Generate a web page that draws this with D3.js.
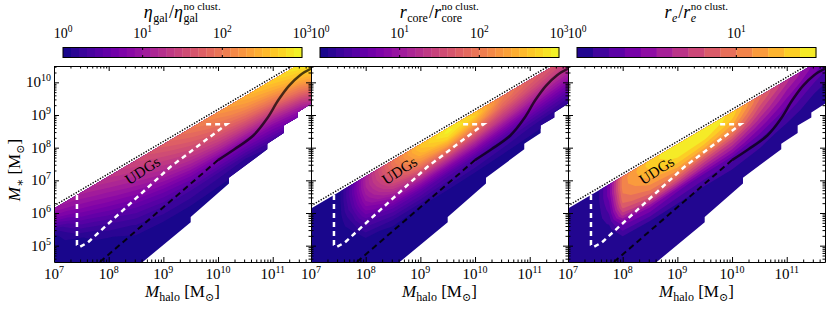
<!DOCTYPE html>
<html>
<head>
<meta charset="utf-8">
<script src="https://cdn.jsdelivr.net/npm/d3@7"></script>
<style>
body { margin: 0; background: #fff; }
svg { display: block; }
text { font-family: "Liberation Serif", "DejaVu Serif", serif; fill: #000; }
</style>
</head>
<body>
<svg id="chart" width="830" height="309"></svg>
<script>
// grid nodes: log10 halo mass, and depth (dex) below the dotted upper limit
const xNodes = [7, 7.5, 7.75, 8, 8.5, 9, 9.5, 10, 10.5, 11, 11.5, 12];
const depthNodes = [0, 0.2, 0.4, 0.6, 0.8, 1.0, 1.25, 1.5, 2.0, 2.5, 3.0, 3.5];

// log10 of the ratios, one row per depth node
const etaGal = [
  [1.05, 1.2, 1.28, 1.35, 1.55, 1.8, 2.05, 2.3, 2.55, 2.75, 2.95, 3.0],
  [0.88, 1.05, 1.15, 1.25, 1.45, 1.68, 1.92, 2.15, 2.4, 2.6, 2.85, 3.0],
  [0.68, 0.92, 1.02, 1.12, 1.32, 1.55, 1.78, 2.0, 2.22, 2.4, 2.65, 2.95],
  [0.42, 0.78, 0.88, 0.98, 1.18, 1.4, 1.62, 1.82, 2.0, 2.15, 2.4, 2.8],
  [0.15, 0.62, 0.74, 0.85, 1.05, 1.25, 1.45, 1.62, 1.75, 1.88, 2.1, 2.55],
  [0.03, 0.45, 0.58, 0.7, 0.9, 1.1, 1.27, 1.4, 1.48, 1.55, 1.8, 2.25],
  [0, 0.25, 0.38, 0.52, 0.72, 0.88, 1.02, 1.1, 1.12, 1.15, 1.35, 1.85],
  [0, 0.08, 0.2, 0.32, 0.52, 0.65, 0.75, 0.75, 0.75, 0.8, 0.95, 1.45],
  [0, 0, 0.03, 0.08, 0.22, 0.3, 0.3, 0.25, 0.2, 0.25, 0.35, 0.7],
  [0, 0, 0, 0.02, 0.06, 0.08, 0.08, 0.05, 0.03, 0.03, 0.05, 0.2],
  [0, 0, 0, 0, 0, 0, 0, 0, 0, 0, 0, 0.02],
  [0, 0, 0, 0, 0, 0, 0, 0, 0, 0, 0, 0]
];
const rCore = [
  [0, 0.03, 0.45, 1.1, 2.0, 2.6, 2.85, 2.6, 2.05, 1.8, 1.65, 1.5],
  [0, 0.03, 0.5, 1.12, 1.95, 2.6, 2.95, 2.7, 2.0, 1.72, 1.52, 1.38],
  [0, 0.03, 0.5, 1.1, 1.85, 2.45, 2.75, 2.4, 1.82, 1.55, 1.35, 1.2],
  [0, 0.02, 0.45, 1.02, 1.7, 2.2, 2.35, 2.0, 1.55, 1.3, 1.12, 1.0],
  [0, 0.02, 0.4, 0.92, 1.5, 1.85, 1.85, 1.6, 1.28, 1.05, 0.9, 0.78],
  [0, 0.01, 0.3, 0.8, 1.25, 1.45, 1.35, 1.2, 0.95, 0.78, 0.66, 0.55],
  [0, 0, 0.2, 0.6, 0.9, 0.95, 0.85, 0.75, 0.6, 0.48, 0.4, 0.32],
  [0, 0, 0.1, 0.38, 0.55, 0.55, 0.45, 0.4, 0.3, 0.22, 0.18, 0.14],
  [0, 0, 0, 0.08, 0.12, 0.1, 0.08, 0.05, 0.03, 0.02, 0, 0],
  [0, 0, 0, 0, 0.02, 0, 0, 0, 0, 0, 0, 0],
  [0, 0, 0, 0, 0, 0, 0, 0, 0, 0, 0, 0],
  [0, 0, 0, 0, 0, 0, 0, 0, 0, 0, 0, 0]
];
const rEff = [
  [0, 0, 0.35, 1.0, 1.35, 1.48, 1.5, 1.38, 0.95, 0.65, 0.4, 0.25],
  [0, 0, 0.35, 1.05, 1.35, 1.5, 1.5, 1.35, 0.9, 0.6, 0.35, 0.2],
  [0, 0, 0.35, 1.05, 1.3, 1.45, 1.42, 1.25, 0.8, 0.5, 0.3, 0.15],
  [0, 0, 0.3, 1.0, 1.22, 1.35, 1.28, 1.1, 0.7, 0.42, 0.22, 0.1],
  [0, 0, 0.25, 0.95, 1.12, 1.2, 1.08, 0.92, 0.58, 0.33, 0.15, 0.07],
  [0, 0, 0.2, 0.85, 1.0, 1.0, 0.82, 0.7, 0.45, 0.25, 0.1, 0.04],
  [0, 0, 0.12, 0.65, 0.78, 0.7, 0.55, 0.48, 0.3, 0.15, 0.05, 0.02],
  [0, 0, 0.05, 0.35, 0.42, 0.32, 0.27, 0.25, 0.15, 0.07, 0.02, 0],
  [0, 0, 0, 0.05, 0.06, 0.05, 0.03, 0.03, 0.02, 0, 0, 0],
  [0, 0, 0, 0, 0, 0, 0, 0, 0, 0, 0, 0],
  [0, 0, 0, 0, 0, 0, 0, 0, 0, 0, 0, 0],
  [0, 0, 0, 0, 0, 0, 0, 0, 0, 0, 0, 0]
];

// lines (log Mhalo, log M*)
const upperLimit = [[7, 6.22], [12, 11.14]];
const lowerEdge = [[8.55, 4.4], [9.5, 5.72], [9.5, 5.88], [10.2, 6.9], [10.2, 7.08], [10.9, 7.95],
  [10.9, 8.12], [11.2, 8.45], [11.2, 8.68], [11.45, 8.92], [11.45, 9.08], [11.75, 9.4], [12, 9.75]];
const relation = [[10.0, 7.62], [10.3, 7.95], [10.65, 8.38], [10.9, 8.9], [11.1, 9.45], [11.3, 9.9], [11.5, 10.22], [11.7, 10.42]];
const relationLow = [[7.84, 4.5], [10.0, 7.62]];
const udgBox = [[7.42, 6.55], [7.42, 5.02], [7.47, 4.96], [7.62, 5.1], [9.12, 7.4], [10.16, 8.72], [9.72, 8.72]];

const xMajor = [7, 8, 9, 10, 11];
const yMajor = [5, 6, 7, 8, 9, 10];
const cbarTicks = [[0, 1, 2, 3], [0, 1, 2, 3], [0, 1]];

const panels = [
  { values: etaGal, max: 3, title: [["η", "i"], ["gal", "sub"], ["/", ""], ["η", "i"], ["no clust.", "gal"]] },
  { values: rCore, max: 3, title: [["r", "i"], ["core", "sub"], ["/", ""], ["r", "i"], ["no clust.", "core"]] },
  { values: rEff, max: 1.5, title: [["r", "i"], ["e", "subi"], ["/", ""], ["r", "i"], ["no clust.", "e", true]] }
];

const svg = d3.select("#chart");
const defs = svg.append("defs");
const W = 257, plotTop = 66, plotBot = 262;
const panelLeft = [54, 311, 568];
const y = d3.scaleLinear().domain([4.5, 10.5]).range([plotBot, plotTop]);
const topAt = d3.scaleLinear().domain(upperLimit.map(d => d[0])).range(upperLimit.map(d => d[1]));
const ix = d3.scaleLinear().domain(d3.range(xNodes.length)).range(xNodes).clamp(true);
const id = d3.scaleLinear().domain(d3.range(depthNodes.length)).range(depthNodes).clamp(true);

function rich(t, parts) {
  let shift = 0;
  parts.forEach(p => {
    const s = t.append("tspan").text(p.t);
    if (p.it) s.attr("font-style", "italic");
    if (p.sz) s.attr("font-size", p.sz);
    const dy = (p.dy || 0) - shift;
    if (dy) s.attr("dy", dy);
    shift = p.dy || 0;
  });
  return t;
}
function pow10(t, e, big, small) {
  return rich(t, [{ t: "10", sz: big }, { t: String(e), sz: small, dy: -6 }]);
}

panels.forEach((p, i) => {
  const x0 = panelLeft[i];
  const x = d3.scaleLinear().domain([7, 11.7]).range([x0, x0 + W]);
  const levels = Math.round(p.max / 0.1);
  const band = k => d3.interpolatePlasma((k + 0.5) / levels);

  defs.append("clipPath").attr("id", "plot" + i).append("rect")
    .attr("x", x0).attr("y", plotTop).attr("width", W).attr("height", plotBot - plotTop);
  const domainPts = [[7, topAt(7) - 0.08], [12, topAt(12) - 0.08]]
    .concat(lowerEdge.slice().reverse()).concat([[7, 4.0]]);
  const area = d3.line().x(d => x(d[0])).y(d => y(d[1]));
  defs.append("clipPath").attr("id", "dom" + i).append("path").attr("d", area(domainPts) + "Z");

  const g = svg.append("g").attr("clip-path", `url(#plot${i})`);
  g.append("path").attr("d", area(domainPts) + "Z").attr("fill", band(0));

  // filled contours on the skewed grid
  const n = xNodes.length, m = depthNodes.length;
  const th = d3.range(1, levels).map(k => k * 0.1 - 1e-9);
  const cs = d3.contours().size([n, m]).thresholds(th)(p.values.flat());
  const proj = d3.geoTransform({
    point(cx, cy) {
      const lx = ix(cx - 0.5);
      const ly = topAt(lx) - id(cy - 0.5);
      this.stream.point(x(lx), y(ly));
    }
  });
  const geo = d3.geoPath(proj);
  g.append("g").attr("clip-path", `url(#dom${i})`)
    .selectAll("path").data(cs).join("path")
    .attr("d", geo)
    .attr("fill", (d, k) => band(k + 1));

  // lines
  g.append("path").attr("d", area(upperLimit))
    .attr("fill", "none").attr("stroke", "#000").attr("stroke-width", 1.5).attr("stroke-dasharray", "1.3 1.5");
  g.append("path").attr("d", area(relationLow))
    .attr("fill", "none").attr("stroke", "#000").attr("stroke-width", 2).attr("stroke-dasharray", "6 4").attr("opacity", 0.85);
  g.append("path").attr("d", d3.line().x(d => x(d[0])).y(d => y(d[1])).curve(d3.curveCatmullRom)(relation))
    .attr("fill", "none").attr("stroke", "#000").attr("stroke-width", 2.5).attr("opacity", 0.7);
  g.append("path").attr("d", area(udgBox))
    .attr("fill", "none").attr("stroke", "#fff").attr("stroke-width", 2.5).attr("stroke-dasharray", "5 4");
  g.append("text").attr("transform", `translate(${x(8.62)},${y(7.3)}) rotate(-33)`)
    .attr("text-anchor", "middle").attr("dominant-baseline", "central")
    .attr("font-size", 15).attr("fill", "#1a1a1a").text("UDGs");

  // axes / frame with inward ticks
  const minorX = d3.range(7, 12).flatMap(e => d3.range(2, 10).map(k => e + Math.log10(k))).filter(v => v < 11.7);
  const minorY = d3.range(4, 11).flatMap(e => d3.range(2, 10).map(k => e + Math.log10(k))).filter(v => v > 4.5 && v < 10.5);
  const ax = [
    [d3.axisBottom(x), `translate(0,${plotBot})`, xMajor, minorX],
    [d3.axisTop(x), `translate(0,${plotTop})`, xMajor, minorX],
    [d3.axisLeft(y), `translate(${x0},0)`, yMajor, minorY],
    [d3.axisRight(y), `translate(${x0 + W},0)`, yMajor, minorY]
  ];
  ax.forEach(([a, tr, maj, min]) => {
    const gm = svg.append("g").attr("transform", tr)
      .call(a.tickValues(min).tickSize(-2.5).tickSizeOuter(0).tickFormat(""));
    gm.select(".domain").remove();
    svg.append("g").attr("transform", tr)
      .call(a.tickValues(maj).tickSize(-5).tickSizeOuter(0).tickFormat(""));
  });

  xMajor.forEach(v => {
    pow10(svg.append("text").attr("x", x(v)).attr("y", 279).attr("text-anchor", "middle"), v, 15, 10);
  });
  if (i === 0) {
    yMajor.forEach(v => {
      pow10(svg.append("text").attr("x", 51).attr("y", y(v) + 5).attr("text-anchor", "end"), v, 15, 10);
    });
    rich(svg.append("text").attr("transform", `translate(20,170) rotate(-90)`).attr("text-anchor", "middle").attr("font-size", 17),
      [{ t: "M", it: true }, { t: "∗", sz: 12, dy: 4 }, { t: " [M" }, { t: "⊙", sz: 11, dy: 4 }, { t: "]" }]);
  }
  rich(svg.append("text").attr("x", x0 + W / 2).attr("y", 297).attr("text-anchor", "middle").attr("font-size", 17),
    [{ t: "M", it: true }, { t: "halo", sz: 12, dy: 4 }, { t: " [M" }, { t: "⊙", sz: 11, dy: 4 }, { t: "]" }]);

  // colorbar
  const cb = d3.scaleLinear().domain([0, p.max]).range([x0 + 9, x0 + W - 9]);
  const cbTop = 47.5, cbH = 10;
  svg.append("g").selectAll("rect").data(d3.range(levels)).join("rect")
    .attr("x", k => cb(k * 0.1)).attr("width", k => cb((k + 1) * 0.1) - cb(k * 0.1) + 0.3)
    .attr("y", cbTop).attr("height", cbH).attr("fill", k => band(k));
  svg.append("rect").attr("x", cb(0)).attr("y", cbTop).attr("width", cb(p.max) - cb(0)).attr("height", cbH)
    .attr("fill", "none").attr("stroke", "#000").attr("stroke-width", 1);
  cbarTicks[i].forEach(v => {
    if (v > 0 && v < p.max) {
      svg.append("line").attr("x1", cb(v)).attr("x2", cb(v)).attr("y1", cbTop).attr("y2", cbTop + 2.5).attr("stroke", "#000");
      svg.append("line").attr("x1", cb(v)).attr("x2", cb(v)).attr("y1", cbTop + cbH - 2.5).attr("y2", cbTop + cbH).attr("stroke", "#000");
    }
    pow10(svg.append("text").attr("x", cb(v)).attr("y", 38).attr("text-anchor", "middle"), v, 14, 9.5);
  });

  // colorbar title with stacked super/subscript
  const tg = svg.append("g");
  let cur = 0;
  const yb = 17.5;
  p.title.forEach(([s, kind, subIt]) => {
    if (kind === "i" || kind === "") {
      const t = tg.append("text").attr("x", cur).attr("y", yb).attr("font-size", 18).text(s);
      if (kind === "i") t.attr("font-style", "italic");
      cur += t.node().getComputedTextLength();
    } else if (kind === "sub" || kind === "subi") {
      const t = tg.append("text").attr("x", cur + 0.5).attr("y", yb + 4).attr("font-size", 12).text(s);
      if (kind === "subi") t.attr("font-style", "italic");
      cur += t.node().getComputedTextLength() + 1.5;
    } else {
      const a = tg.append("text").attr("x", cur + 0.5).attr("y", yb - 7.5).attr("font-size", 11).text(s);
      const b = tg.append("text").attr("x", cur + 0.5).attr("y", yb + 4).attr("font-size", 12).text(kind);
      if (subIt) b.attr("font-style", "italic");
      cur += Math.max(a.node().getComputedTextLength(), b.node().getComputedTextLength()) + 1;
    }
  });
  tg.attr("transform", `translate(${x0 + W / 2 - cur / 2},0)`);
});
</script>
</body>
</html>
